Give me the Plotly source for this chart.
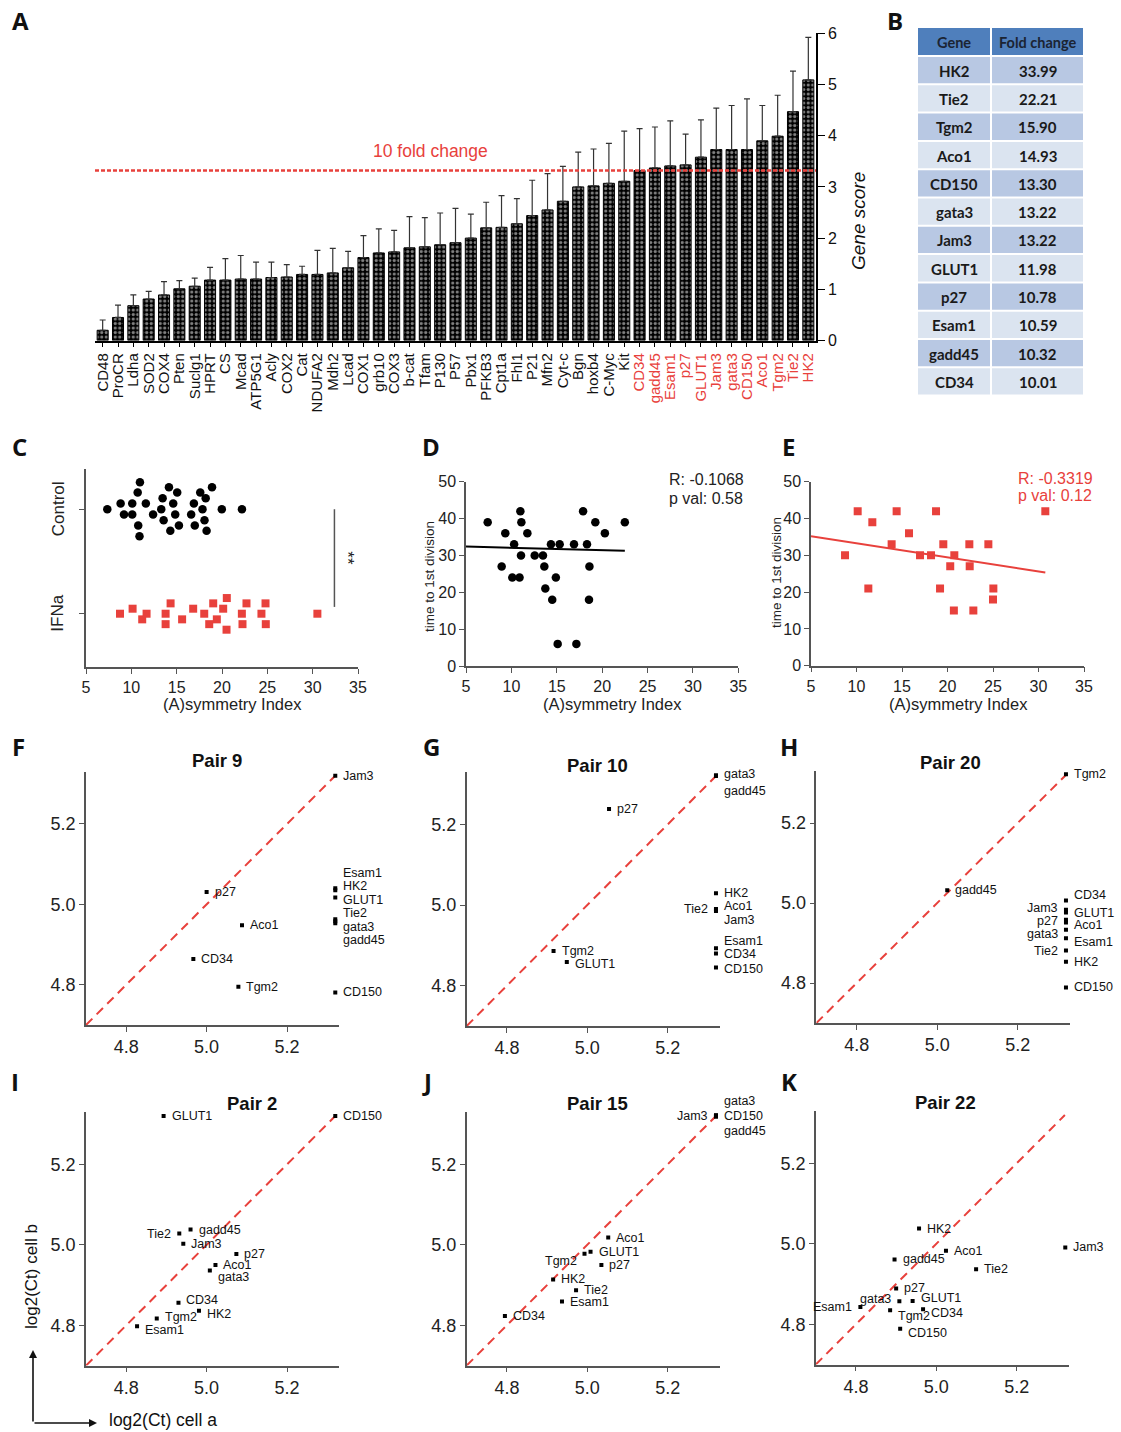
import numpy as np
import plotly.graph_objects as go

W, H = 1121, 1432
RED = "#E8413C"
AXC = "#555555"
FONT = "Liberation Sans, Arial, sans-serif"

# ------------------------------------------------------------------ Panel A
genes = ["CD48", "ProCR", "Ldha", "SOD2", "COX4", "Pten", "Suclg1", "HPRT", "CS", "Mcad",
         "ATP5G1", "Acly", "COX2", "Cat", "NDUFA2", "Mdh2", "Lcad", "COX1", "grb10", "COX3",
         "b-cat", "Tfam", "P130", "P57", "Pbx1", "PFKB3", "Cpt1a", "Fhl1", "P21", "Mfn2",
         "Cyt-c", "Bgn", "hoxb4", "C-Myc", "Kit", "CD34", "gadd45", "Esam1", "p27", "GLUT1",
         "Jam3", "gata3", "CD150", "Aco1", "Tgm2", "Tie2", "HK2"]
gene_scores = [0.20, 0.45, 0.68, 0.81, 0.89, 1.01, 1.06, 1.18, 1.18, 1.20,
               1.20, 1.23, 1.24, 1.29, 1.29, 1.32, 1.42, 1.62, 1.71, 1.73,
               1.81, 1.83, 1.87, 1.91, 2.00, 2.20, 2.21, 2.28, 2.44, 2.55,
               2.72, 3.00, 3.02, 3.07, 3.11, 3.32, 3.37, 3.41, 3.43, 3.58,
               3.73, 3.73, 3.73, 3.90, 3.99, 4.47, 5.09]
score_err = [0.20, 0.24, 0.21, 0.15, 0.26, 0.16, 0.16, 0.25, 0.42, 0.46,
             0.33, 0.30, 0.24, 0.16, 0.47, 0.48, 0.32, 0.43, 0.47, 0.42,
             0.61, 0.57, 0.62, 0.67, 0.47, 0.50, 0.62, 0.49, 0.69, 0.71,
             0.68, 0.68, 0.72, 0.78, 0.98, 0.82, 0.80, 0.88, 0.60, 0.73,
             0.81, 0.86, 0.99, 0.69, 0.80, 0.79, 0.83]
fold_threshold = 10

# ------------------------------------------------------------------ Panel B
table_header = ["Gene", "Fold change"]
table_genes = ["HK2", "Tie2", "Tgm2", "Aco1", "CD150", "gata3", "Jam3", "GLUT1",
               "p27", "Esam1", "gadd45", "CD34"]
table_fold = ["33.99", "22.21", "15.90", "14.93", "13.30", "13.22", "13.22", "11.98",
              "10.78", "10.59", "10.32", "10.01"]

# ------------------------------------------------------------------ Panel C
ctrl_index = [7.35, 8.82, 9.19, 10.1, 10.1, 10.7, 10.76, 10.95, 10.9, 11.6, 12.4, 13.3,
              13.45, 13.56, 14.15, 14.3, 14.62, 14.84, 15.06, 15.25, 16.6, 16.9, 17.0,
              17.6, 17.85, 18.07, 18.2, 18.3, 18.9, 19.98, 22.2]
ctrl_pos = [1.0, 1.054, 0.949, 1.054, 0.949, 1.16, 0.844, 1.258, 0.742, 1.054, 0.949, 1.0,
            1.105, 0.895, 1.21, 0.793, 1.054, 0.949, 1.16, 0.844, 0.949, 1.054, 0.844,
            1.16, 1.0, 0.895, 1.105, 0.793, 1.21, 1.0, 1.0]
ifn_index = [8.75, 10.14, 11.2, 11.68, 13.78, 13.78, 14.33, 15.6, 16.82, 18.04, 18.59,
             19.03, 19.43, 20.13, 20.53, 20.5, 22.19, 22.26, 22.7, 24.35, 24.8, 24.83, 30.52]
ifn_pos = [0.0, 0.048, -0.054, 0.0, 0.0, -0.10, 0.099, -0.054, 0.048, 0.0, -0.10,
           0.099, -0.054, 0.048, 0.15, -0.153, 0.0, -0.10, 0.099, 0.0, 0.099, -0.10, 0.0]
group_labels = ["IFNa", "Control"]

# ------------------------------------------------------------------ Panel D
d_index = [7.39, 8.93, 9.33, 10.3, 10.1, 10.9, 10.99, 11.1, 11.06, 11.76, 12.57, 13.48,
           13.63, 13.74, 14.36, 14.5, 14.9, 15.1, 15.32, 16.9, 17.16, 17.9, 18.33, 18.55,
           18.6, 19.25, 20.3, 22.5]
d_time = [39, 27, 36, 33, 24, 24, 42, 39, 30, 36, 30, 30,
          27, 21, 33, 18, 24, 6, 33, 33, 6, 42, 33, 18,
          27, 39, 36, 39]
d_fit_x = [5.0, 22.5]
d_fit_y = [32.4, 31.3]
d_stats = ["R: -0.1068", "p val: 0.58"]

# ------------------------------------------------------------------ Panel E
e_index = [8.74, 10.13, 11.3, 11.74, 13.86, 14.41, 15.77, 16.98, 18.19, 18.74, 19.18,
           19.54, 20.3, 20.75, 20.7, 22.4, 22.44, 22.84, 24.49, 25.04, 25.0, 30.75]
e_time = [30, 42, 21, 39, 33, 42, 36, 30, 30, 42, 21,
          33, 27, 30, 15, 33, 27, 15, 33, 21, 18, 42]
e_fit_x = [5.0, 30.75]
e_fit_y = [35.2, 25.3]
e_stats = ["R: -0.3319", "p val: 0.12"]

# ------------------------------------------------------------------ Panels F-K
pair9_genes = ["Jam3", "p27", "Aco1", "CD34", "Tgm2", "Esam1", "HK2", "GLUT1", "Tie2", "gata3", "gadd45", "CD150"]
pair9_a = [5.32, 5.00, 5.088, 4.967, 5.079, 5.32, 5.32, 5.32, 5.32, 5.32, 5.32, 5.32]
pair9_b = [5.32, 5.031, 4.948, 4.864, 4.795, 5.040, 5.035, 5.017, 4.963, 4.958, 4.953, 4.781]

pair10_genes = ["gata3", "gadd45", "p27", "HK2", "Tie2", "Aco1", "Jam3", "Esam1", "CD34", "CD150", "Tgm2", "GLUT1"]
pair10_a = [5.32, 5.32, 5.054, 5.32, 5.32, 5.32, 5.32, 5.32, 5.32, 5.32, 4.916, 4.949]
pair10_b = [5.322, 5.320, 5.238, 5.029, 4.990, 4.989, 4.985, 4.893, 4.880, 4.845, 4.886, 4.859]

pair20_genes = ["Tgm2", "gadd45", "CD34", "Jam3", "GLUT1", "p27", "Aco1", "gata3", "Esam1", "Tie2", "HK2", "CD150"]
pair20_a = [5.32, 5.025, 5.32, 5.32, 5.32, 5.32, 5.32, 5.32, 5.32, 5.32, 5.32, 5.32]
pair20_b = [5.322, 5.032, 5.006, 4.983, 4.976, 4.958, 4.951, 4.933, 4.912, 4.881, 4.853, 4.789]

pair2_genes = ["GLUT1", "CD150", "Tie2", "gadd45", "Jam3", "p27", "Aco1", "gata3", "CD34", "HK2", "Tgm2", "Esam1"]
pair2_a = [4.893, 5.32, 4.932, 4.960, 4.942, 5.074, 5.022, 5.008, 4.930, 4.981, 4.876, 4.827]
pair2_b = [5.32, 5.32, 5.028, 5.038, 5.003, 4.977, 4.950, 4.936, 4.856, 4.836, 4.817, 4.798]

pair15_genes = ["gata3", "CD150", "gadd45", "Jam3", "Aco1", "GLUT1", "Tgm2", "p27", "HK2", "Tie2", "Esam1", "CD34"]
pair15_a = [5.32, 5.32, 5.32, 5.32, 5.052, 5.008, 4.993, 5.035, 4.915, 4.972, 4.937, 4.795]
pair15_b = [5.322, 5.320, 5.318, 5.321, 5.018, 4.983, 4.978, 4.950, 4.914, 4.887, 4.859, 4.823]

pair22_genes = ["HK2", "Jam3", "Aco1", "gadd45", "Tie2", "p27", "gata3", "GLUT1", "Esam1", "Tgm2", "CD34", "CD150"]
pair22_a = [4.957, 5.321, 5.024, 4.896, 5.099, 4.900, 4.908, 4.941, 4.811, 4.885, 4.967, 4.910]
pair22_b = [5.038, 4.991, 4.983, 4.961, 4.937, 4.889, 4.857, 4.858, 4.843, 4.835, 4.837, 4.789]

pair_ticks = [4.8, 5.0, 5.2]
pair_range = [4.7, 5.33]
ct_max = 5.32

# ------------------------------------------------------------------ label styling (side, vertical nudge px)
pair9_style = [("R", 0), ("R", 0), ("R", 0), ("R", 0), ("R", 0), ("R", 15), ("R", 4), ("R", -2.5),
               ("R", 6), ("R", -6), ("R", -17), ("R", 0)]
pair10_style = [("R", 1), ("R", -15), ("R", 0), ("R", 0), ("L", 0), ("R", 3), ("R", -9), ("R", 7),
                ("R", -1), ("R", -1), ("R", 0), ("R", -2)]
pair20_style = [("R", 0), ("R", 0), ("R", 6), ("L", 2), ("R", 0), ("L", -1), ("R", -2), ("L", -4),
                ("R", -4), ("L", 0), ("R", 0), ("R", 0)]
pair2_style = [("R", 0), ("R", 0), ("L", 0), ("R", 0), ("R", 0), ("R", 0), ("R", 0), ("R", -6),
               ("R", 3), ("R", -3), ("R", 2), ("R", -4)]
pair15_style = [("R", 14), ("R", 0), ("R", -14), ("L", 0), ("R", 0), ("R", 0), ("L", -7), ("R", 0),
                ("R", 0), ("R", 0), ("R", 0), ("R", 0)]
pair22_style = [("R", 0), ("R", 0), ("R", 0), ("R", 0), ("R", 0), ("R", 0), ("L", 2), ("R", 2.5),
                ("L", 0), ("R", -6), ("R", -4), ("R", -4)]


def dx(a, b):
    return [a / W, b / W]


def dy(top, bottom):
    return [1 - bottom / H, 1 - top / H]


def px(x):
    return x / W


def py(y):
    return 1 - y / H


annotations = []
shapes = []


def ann(**kw):
    base = dict(showarrow=False, xanchor="center", yanchor="middle", xref="paper", yref="paper")
    base.update(kw)
    annotations.append(base)


def rect(x0, x1, top, bottom, color):
    shapes.append(dict(type="rect", xref="paper", yref="paper", x0=px(x0), x1=px(x1),
                       y0=py(bottom), y1=py(top), fillcolor=color, line=dict(width=0), layer="below"))


fig = go.Figure()

# ---------------- Panel A
n = len(genes)
idx = list(range(n))
red_set = set(table_genes)
ticktext = [f'<span style="color:{RED}">{g}</span>' if g in red_set else g for g in genes]
fig.add_trace(go.Bar(
    x=idx, y=gene_scores, width=0.72,
    marker=dict(color="black", line=dict(color="black", width=1),
                pattern=dict(shape=".", fgcolor="white", bgcolor="black", size=4.5, solidity=0.4)),
    error_y=dict(type="data", symmetric=False, array=score_err, arrayminus=[0] * n,
                 color="#333333", thickness=1.2, width=3),
    xaxis="x", yaxis="y", showlegend=False))
thr = float(np.log2(fold_threshold))
fig.add_trace(go.Scatter(x=[-0.5, n - 0.5], y=[thr, thr], mode="lines",
                         line=dict(color=RED, width=2.5, dash="4px,2px"),
                         xaxis="x", yaxis="y", showlegend=False))
ann(x=px(430), y=py(151), text=f"{fold_threshold} fold change", font=dict(size=17.5, color=RED))
ann(x=px(858), y=py(221), text="Gene score", textangle=-90,
    font=dict(size=19, style="italic", color="#111"))

axis_common = dict(showgrid=False, zeroline=False, showline=True, ticks="outside", automargin=False)

layout_axes = {}
layout_axes["xaxis"] = dict(axis_common, domain=dx(95, 816), range=[-0.5, n - 0.5], tickmode="array",
                            tickvals=idx, ticktext=ticktext, tickangle=-90, tickfont=dict(size=15, color="#111"),
                            linecolor="black", linewidth=1.5, ticklen=5, tickcolor="black", anchor="y")
layout_axes["yaxis"] = dict(axis_common, domain=dy(33.3, 340.5), range=[0, 6], dtick=1, side="right",
                            anchor="x", linecolor="black", linewidth=1.5, ticklen=7, tickcolor="black",
                            tickfont=dict(size=16, color="#111"))

# ---------------- Panel B (table drawn as cells)
TFONT = "Lato, Open Sans, sans-serif"
col_edges = [(918, 990), (992, 1083)]
rect(918, 990, 28, 55, "#4F7FBC")
rect(992, 1083, 28, 55, "#4F7FBC")
for (x0, x1), h in zip(col_edges, table_header):
    ann(x=px((x0 + x1) / 2), y=py(42), text=f"<b>{h}</b>", font=dict(size=14.5, family=TFONT, color="#1b2433"))
row_h = 28.3
for i, (g, f) in enumerate(zip(table_genes, table_fold)):
    top = 57 + row_h * i
    col = "#B8C8E3" if i % 2 == 0 else "#DBE4F0"
    for (x0, x1), txt in zip(col_edges, (g, f)):
        rect(x0, x1, top, top + row_h - 2, col)
        ann(x=px((x0 + x1) / 2), y=py(top + (row_h - 2) / 2 + 0.5), text=f"<b>{txt}</b>",
            font=dict(size=15, family=TFONT, color="#1a1a1a"))

# ---------------- Panel C
fig.add_trace(go.Scatter(x=ctrl_index, y=ctrl_pos, mode="markers",
                         marker=dict(symbol="circle", size=8.5, color="black"),
                         xaxis="x2", yaxis="y2", showlegend=False))
fig.add_trace(go.Scatter(x=ifn_index, y=ifn_pos, mode="markers",
                         marker=dict(symbol="square", size=8, color=RED),
                         xaxis="x2", yaxis="y2", showlegend=False))
small_ax = dict(axis_common, linecolor=AXC, linewidth=1.5, ticklen=5, tickcolor=AXC,
                tickfont=dict(size=16, color="#222"))
layout_axes["xaxis2"] = dict(small_ax, domain=dx(86, 358), range=[5, 35], dtick=5, anchor="y2")
layout_axes["yaxis2"] = dict(small_ax, domain=dy(469, 667), range=[-0.51, 1.385], tickvals=[0, 1],
                             showticklabels=False, anchor="x2")
for i, lab in enumerate(group_labels):
    ann(x=px(58), y=i, yref="y2", text=lab, textangle=-90, font=dict(size=17, color="#222"))
shapes.append(dict(type="line", xref="x2", yref="y2", x0=32.4, x1=32.4, y0=1.0, y1=0.065,
                   line=dict(color=AXC, width=1.5)))
ann(x=33.9, y=0.53, xref="x2", yref="y2", text="**", textangle=90, font=dict(size=17, color="#222"))

# ---------------- Panel D
fig.add_trace(go.Scatter(x=d_index, y=d_time, mode="markers",
                         marker=dict(symbol="circle", size=8.5, color="black"),
                         xaxis="x3", yaxis="y3", showlegend=False))
fig.add_trace(go.Scatter(x=d_fit_x, y=d_fit_y, mode="lines", line=dict(color="black", width=2),
                         xaxis="x3", yaxis="y3", showlegend=False))
layout_axes["xaxis3"] = dict(small_ax, domain=dx(466, 738.3), range=[5, 35], dtick=5, anchor="y3")
layout_axes["yaxis3"] = dict(small_ax, domain=dy(481.7, 666), range=[0, 50], dtick=10, anchor="x3")
for k, s in enumerate(d_stats):
    ann(x=px(667), y=py(480 + 18 * k), text=s, xanchor="left", font=dict(size=16, color="#222"))

# ---------------- Panel E
fig.add_trace(go.Scatter(x=e_index, y=e_time, mode="markers",
                         marker=dict(symbol="square", size=8, color=RED),
                         xaxis="x4", yaxis="y4", showlegend=False))
fig.add_trace(go.Scatter(x=e_fit_x, y=e_fit_y, mode="lines", line=dict(color=RED, width=2),
                         xaxis="x4", yaxis="y4", showlegend=False))
layout_axes["xaxis4"] = dict(small_ax, domain=dx(811, 1084), range=[5, 35], dtick=5, anchor="y4")
layout_axes["yaxis4"] = dict(small_ax, domain=dy(481.7, 665.7), range=[0, 50], dtick=10, anchor="x4")
for k, s in enumerate(e_stats):
    ann(x=px(1016), y=py(478 + 18 * k), text=s, xanchor="left", font=dict(size=16, color=RED))

for xc in (232, 612, 958):
    ann(x=px(xc), y=py(704), text="(A)symmetry Index", font=dict(size=16.5, color="#222"))
for xc, yc in ((429, 577), (776, 573)):
    ann(x=px(xc), y=py(yc), text="time to 1st division", textangle=-90, font=dict(size=13.5, color="#222"))

# ---------------- Panels F-K
pairs = [
    ("Pair 9", pair9_genes, pair9_a, pair9_b, pair9_style, (86, 339.3), (771.7, 1025), (217, 761)),
    ("Pair 10", pair10_genes, pair10_a, pair10_b, pair10_style, (466.7, 720), (772, 1026), (597, 765)),
    ("Pair 20", pair20_genes, pair20_a, pair20_b, pair20_style, (816.4, 1070), (771, 1023), (950, 763)),
    ("Pair 2", pair2_genes, pair2_a, pair2_b, pair2_style, (86, 339.3), (1112, 1365.6), (252, 1103)),
    ("Pair 15", pair15_genes, pair15_a, pair15_b, pair15_style, (466.7, 720), (1112, 1365.5), (598, 1103)),
    ("Pair 22", pair22_genes, pair22_a, pair22_b, pair22_style, (815.8, 1068.9), (1111, 1364.5), (945, 1102)),
]
pair_ax = dict(axis_common, linecolor=AXC, linewidth=1.5, ticklen=5, tickcolor=AXC,
               tickfont=dict(size=18, color="#222"), range=pair_range, tickvals=pair_ticks,
               ticktext=[f"{t:.1f}" for t in pair_ticks])
for j, (title, gl, xa, yb, style, xd, yd, tpos) in enumerate(pairs):
    k = j + 5
    xn, yn = f"x{k}", f"y{k}"
    fig.add_trace(go.Scatter(x=[pair_range[0], ct_max], y=[pair_range[0], ct_max], mode="lines",
                             line=dict(color=RED, width=2, dash="9px,6px"),
                             xaxis=xn, yaxis=yn, showlegend=False))
    fig.add_trace(go.Scatter(x=xa, y=yb, mode="markers",
                             marker=dict(symbol="square", size=4, color="black"),
                             xaxis=xn, yaxis=yn, showlegend=False))
    layout_axes[f"xaxis{k}"] = dict(pair_ax, domain=dx(*xd), anchor=yn)
    layout_axes[f"yaxis{k}"] = dict(pair_ax, domain=dy(*yd), anchor=xn)
    for g, xv, yv, (side, nud) in zip(gl, xa, yb, style):
        ann(x=xv, y=yv, xref=xn, yref=yn, text=g,
            xanchor="left" if side == "R" else "right",
            xshift=6 if side == "R" else -6, yshift=nud,
            font=dict(size=12.5, color="#111"))
    ann(x=px(tpos[0]), y=py(tpos[1]), text=f"<b>{title}</b>", font=dict(size=18.5, color="#111"))

# axis legend arrows (bottom-left)
annotations.append(dict(x=px(33), y=py(1350), xref="paper", yref="paper", ax=0, ay=73, text="",
                        showarrow=True, arrowhead=2, arrowsize=1, arrowwidth=1.6, arrowcolor="#111"))
annotations.append(dict(x=px(97), y=py(1423), xref="paper", yref="paper", ax=-64, ay=0, text="",
                        showarrow=True, arrowhead=2, arrowsize=1, arrowwidth=1.6, arrowcolor="#111"))
ann(x=px(107), y=py(1420), text="log2(Ct) cell a", xanchor="left", font=dict(size=17.5, color="#111"))
ann(x=px(31), y=py(1277), text="log2(Ct) cell b", textangle=-90, font=dict(size=17, color="#111"))

# panel letters
letters = [("A", 20, 20), ("B", 895, 20), ("C", 19, 446), ("D", 431, 446), ("E", 788, 446),
           ("F", 18, 746), ("G", 431, 746), ("H", 789, 746), ("I", 15, 1081), ("J", 427, 1081),
           ("K", 789, 1081)]
for L, xl, yl in letters:
    ann(x=px(xl), y=py(yl), text=f"<b>{L}</b>", font=dict(size=24, family="Open Sans, sans-serif", color="#111"))

fig.update_layout(
    width=W, height=H, autosize=False,
    margin=dict(l=0, r=0, t=0, b=0, pad=0, autoexpand=False),
    paper_bgcolor="white", plot_bgcolor="white",
    font=dict(family=FONT, color="#222"),
    showlegend=False,
    annotations=annotations, shapes=shapes,
    **layout_axes)

fig.write_html("out.html")
